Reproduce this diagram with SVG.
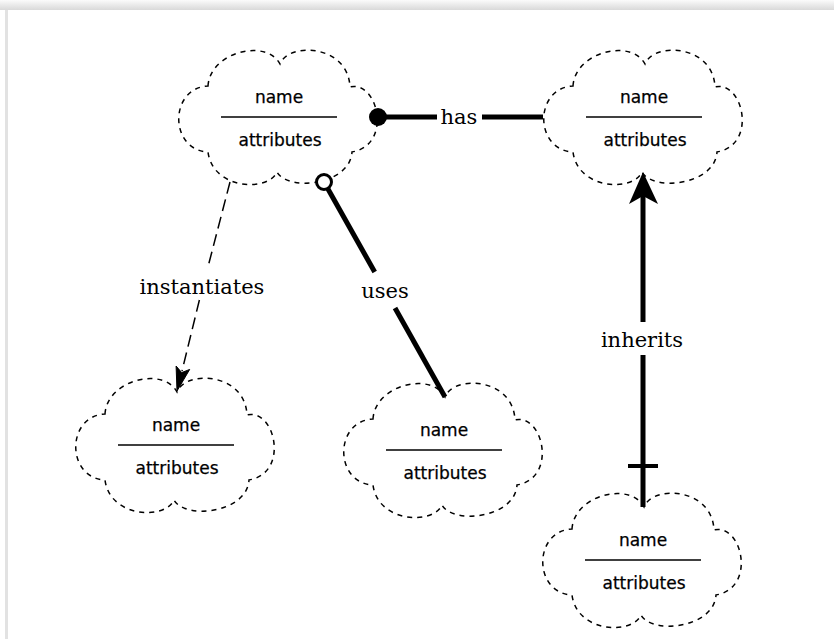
<svg xmlns="http://www.w3.org/2000/svg" xmlns:xlink="http://www.w3.org/1999/xlink" width="834" height="639" viewBox="0 0 834 639">
  <style>
    .cloud { fill: none; stroke: #000; stroke-width: 1.5; stroke-dasharray: 5 5; }
    .divider { stroke: #000; stroke-width: 1.6; }
    .nname { font-family: "DejaVu Sans", Verdana, sans-serif; font-size: 17px; text-anchor: middle; fill: #000; stroke: #000; stroke-width: 0.25; }
    .elabel { font-family: "DejaVu Serif", "Liberation Serif", serif; font-size: 21px; text-anchor: middle; fill: #000; }
    .thick { stroke: #000; stroke-width: 5; fill: none; }
    .dashed { stroke: #000; stroke-width: 1.5; stroke-dasharray: 12 6; fill: none; }
  </style>
  <defs>
    <linearGradient id="topShade" x1="0" y1="0" x2="0" y2="1">
      <stop offset="0" stop-color="#fbfbfb"/>
      <stop offset="1" stop-color="#d9d9d9"/>
    </linearGradient>
    <!-- six-lobed cloud outline, local box about 202 x 134 -->
    <path id="cloud" d="M30,36 C32,2 88,-12 102,14 C110,-8 170,-6 172,37 C200,30 215,95 174,102 C172,135 110,142 99,122 C90,142 35,140 30,102 C-9,100 -9,38 30,36 Z"/>
  </defs>

  <!-- window frame -->
  <rect x="0" y="0" width="834" height="639" fill="#fff"/>
  <rect x="0" y="0" width="834" height="10" fill="url(#topShade)"/>
  <rect x="5" y="10" width="3" height="629" fill="#e2e2e2"/>

  <!-- nodes -->
  <g id="node-top-left" transform="translate(178,50)">
    <use xlink:href="#cloud" class="cloud"/>
    <text class="nname" x="101" y="53">name</text>
    <line class="divider" x1="43" y1="67" x2="159" y2="67"/>
    <text class="nname" x="102" y="96">attributes</text>
  </g>
  <g id="node-top-right" transform="translate(543,50)">
    <use xlink:href="#cloud" class="cloud"/>
    <text class="nname" x="101" y="53">name</text>
    <line class="divider" x1="43" y1="67" x2="159" y2="67"/>
    <text class="nname" x="102" y="96">attributes</text>
  </g>
  <g id="node-bottom-left" transform="translate(75,378)">
    <use xlink:href="#cloud" class="cloud"/>
    <text class="nname" x="101" y="53">name</text>
    <line class="divider" x1="43" y1="67" x2="159" y2="67"/>
    <text class="nname" x="102" y="96">attributes</text>
  </g>
  <g id="node-bottom-middle" transform="translate(343,383)">
    <use xlink:href="#cloud" class="cloud"/>
    <text class="nname" x="101" y="53">name</text>
    <line class="divider" x1="43" y1="67" x2="159" y2="67"/>
    <text class="nname" x="102" y="96">attributes</text>
  </g>
  <g id="node-bottom-right" transform="translate(542,493)">
    <use xlink:href="#cloud" class="cloud"/>
    <text class="nname" x="101" y="53">name</text>
    <line class="divider" x1="43" y1="67" x2="159" y2="67"/>
    <text class="nname" x="102" y="96">attributes</text>
  </g>

  <!-- connectors -->
  <g id="connectors">
    <!-- has: filled dot at the owner end -->
    <g id="edge-has">
      <circle cx="378" cy="117" r="9" fill="#000"/>
      <line class="thick" x1="378" y1="117" x2="437" y2="117"/>
      <line class="thick" x1="482" y1="117" x2="543" y2="117"/>
      <text class="elabel" x="459" y="124">has</text>
    </g>
    <!-- uses: hollow circle at the user end -->
    <g id="edge-uses">
      <line class="thick" x1="328" y1="189" x2="374.7" y2="272"/>
      <line class="thick" x1="395" y1="308" x2="445" y2="397"/>
      <circle cx="324" cy="182" r="7.5" fill="#fff" stroke="#000" stroke-width="3"/>
      <text class="elabel" x="385" y="298">uses</text>
    </g>
    <!-- instantiates: dashed with arrowhead -->
    <g id="edge-instantiates">
      <line class="dashed" x1="230" y1="182" x2="207.7" y2="268"/>
      <line class="dashed" x1="199.4" y1="300" x2="182" y2="371"/>
      <polygon points="177,391 176.1,366 181.7,372.6 189.7,369.4" fill="#000" stroke="#000" stroke-width="1"/>
      <text class="elabel" x="202" y="294">instantiates</text>
    </g>
    <!-- inherits: arrow up to the parent, bar at the child end -->
    <g id="edge-inherits">
      <line class="thick" x1="643" y1="196" x2="643" y2="322"/>
      <line class="thick" x1="643" y1="355" x2="643" y2="507"/>
      <line stroke="#000" stroke-width="4" x1="628" y1="466" x2="658" y2="466"/>
      <polygon points="643,172 658,204 643,196 629,204" fill="#000"/>
      <text class="elabel" x="642" y="347">inherits</text>
    </g>
  </g>
</svg>
